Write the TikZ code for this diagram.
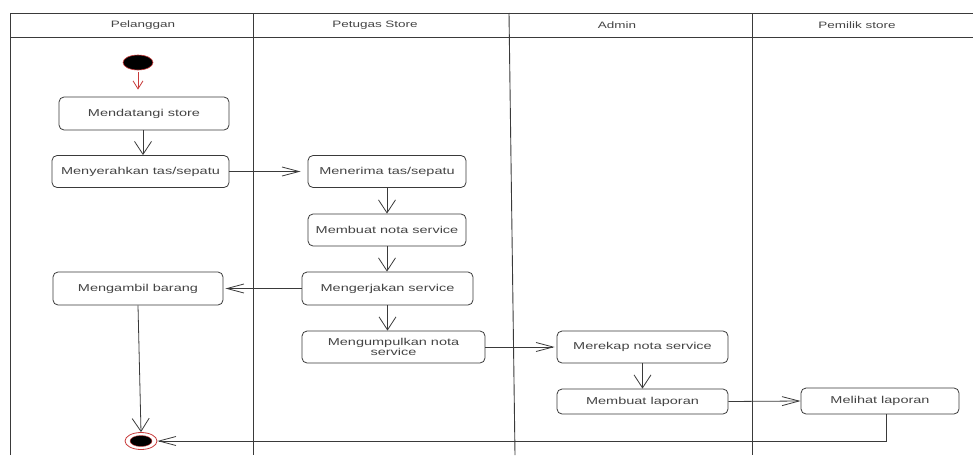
\documentclass[tikz,border=0pt]{standalone}
\usepackage{fontspec}
\setmainfont{Liberation Sans}[FakeStretch=1.45]
\usetikzlibrary{arrows.meta,shapes.geometric}
\definecolor{linec}{HTML}{3A3A3A}
\definecolor{txtc}{HTML}{444444}
\definecolor{umlred}{HTML}{C83A3A}
\tikzset{
  lane/.style={draw=linec, line width=0.9pt},
  actbox/.style={draw=linec, line width=0.8pt, rounded corners=5pt, inner sep=0pt,
    text=txtc, font=\fontsize{10}{10.5}\selectfont, align=center},
  hdr/.style={text=txtc, font=\fontsize{9.3}{10}\selectfont, inner sep=0pt},
  varr/.style={draw=linec, line width=0.8pt, -{Straight Barb[length=13pt,width=17pt,line width=0.8pt]}},
  harr/.style={draw=linec, line width=0.8pt, -{Straight Barb[length=17pt,width=9pt,line width=0.8pt]}},
  redarr/.style={draw=umlred, line width=0.8pt, -{Straight Barb[length=8pt,width=10pt,line width=0.8pt]}},
}
\begin{document}
\begin{tikzpicture}[x=1pt,y=-1pt]
\useasboundingbox (0,0) rectangle (973,455);
% swimlanes
\draw[lane] (10,455) -- (10,13) -- (973,13);
\draw[lane] (10,37) -- (973,37);
\draw[lane] (253,13) -- (253,455);
\draw[lane] (509,13) -- (515,455);
\draw[lane] (752,13) -- (752,455);
\node[hdr] (h1) at (143,25) {Pelanggan};
\node[hdr] (h2) at (375,25) {Petugas Store};
\node[hdr] (h3) at (617,25) {Admin};
\node[hdr] (h4) at (857,25) {Pemilik store};
% initial and final nodes
\node[ellipse, fill=black, draw=umlred, line width=0.6pt, minimum width=30pt, minimum height=15pt, inner sep=0pt] (start) at (138,62.5) {};
\node[ellipse, fill=white, draw=umlred, line width=0.8pt, minimum width=32pt, minimum height=17pt, inner sep=0pt] (end) at (141,441) {};
\node[ellipse, fill=black, draw=umlred, line width=0.4pt, minimum width=22pt, minimum height=11pt, inner sep=0pt] (endin) at (141,441) {};
% activities
\node[actbox, minimum width=170pt, minimum height=33pt] (mendatangi) at (144,113.5) {Mendatangi store};
\node[actbox, minimum width=177pt, minimum height=32pt] (menyerahkan) at (140.5,171.5) {Menyerahkan tas/sepatu};
\node[actbox, minimum width=158pt, minimum height=32pt] (menerima) at (387,171.5) {Menerima tas/sepatu};
\node[actbox, minimum width=158pt, minimum height=32pt] (nota) at (387,230) {Membuat nota service};
\node[actbox, minimum width=171pt, minimum height=33pt] (mengerjakan) at (387.5,288.5) {Mengerjakan service};
\node[actbox, minimum width=170pt, minimum height=33pt] (mengambil) at (138,288.5) {Mengambil barang};
\node[actbox, minimum width=183pt, minimum height=32pt] (mengumpulkan) at (393.5,347) {Mengumpulkan nota\\service};
\node[actbox, minimum width=171pt, minimum height=32pt] (merekap) at (642.5,347) {Merekap nota service};
\node[actbox, minimum width=171pt, minimum height=25pt] (laporan) at (642.5,401.5) {Membuat laporan};
\node[actbox, minimum width=158pt, minimum height=26pt] (melihat) at (880,401) {Melihat laporan};
% connectors
\draw[redarr, shorten <=2pt, shorten >=7pt] (start) -- (mendatangi.north -| start);
\draw[varr] ([xshift=-1pt]mendatangi.south) -- ([xshift=-1pt]mendatangi.south |- menyerahkan.north);
\draw[harr, shorten >=7pt] (menyerahkan.east) -- (menerima.west);
\draw[varr] (menerima.south) -- (nota.north);
\draw[varr] (nota.south) -- (nota.south |- mengerjakan.north);
\draw[harr, shorten >=2pt] (mengerjakan.west) -- (mengambil.east);
\draw[varr] (mengerjakan.south) -- (mengerjakan.south |- mengumpulkan.north);
\draw[harr, shorten >=2pt] (mengumpulkan.east) -- (merekap.west);
\draw[varr] (merekap.south) -- (laporan.north);
\draw[harr] (laporan.east) -- (melihat.west);
\draw[harr] ([xshift=6pt]melihat.south) |- (end.east);
\draw[varr] (mengambil.south) -- (end.north);
\end{tikzpicture}
\end{document}
